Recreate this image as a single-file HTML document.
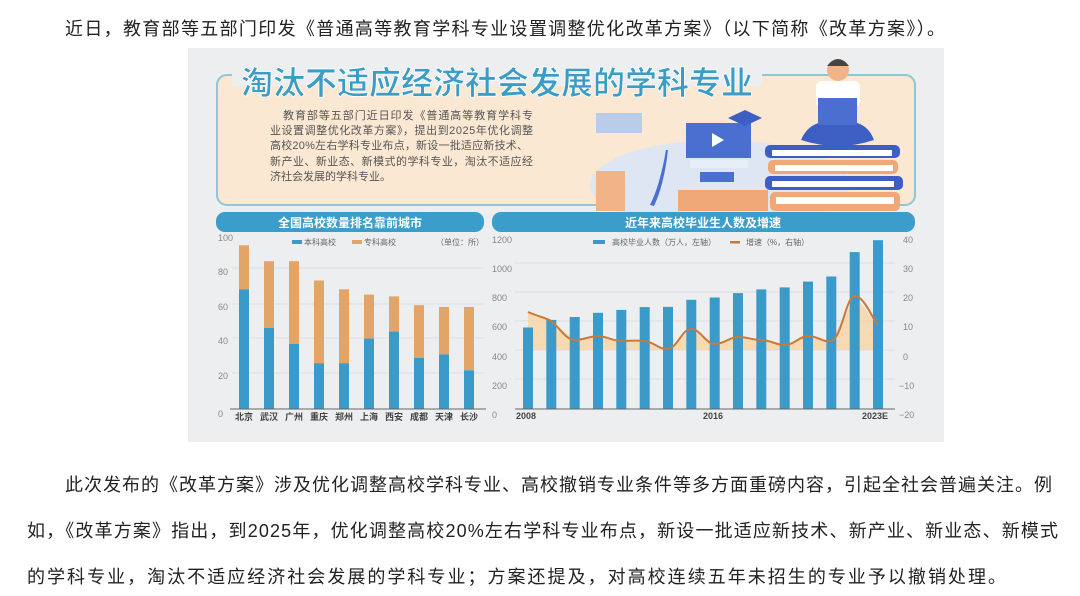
<!DOCTYPE html>
<html><head><meta charset="utf-8"><style>
html,body{margin:0;padding:0;background:#fff;width:1080px;height:596px;overflow:hidden}
svg text{font-family:"Liberation Sans","Noto Sans CJK SC",sans-serif}
</style></head><body>
<svg width="1080" height="596" viewBox="0 0 1080 596" style="position:absolute;left:0;top:0">
<rect width="1080" height="596" fill="#fff"/>
<g font-size="18" fill="#222">
<text x="65" y="35" textLength="880" lengthAdjust="spacing">近日，教育部等五部门印发《普通高等教育学科专业设置调整优化改革方案》（以下简称《改革方案》）。</text>
<text x="65" y="491" textLength="987" lengthAdjust="spacing">此次发布的《改革方案》涉及优化调整高校学科专业、高校撤销专业条件等多方面重磅内容，引起全社会普遍关注。例</text>
<text x="27" y="537" textLength="1031" lengthAdjust="spacing">如，《改革方案》指出，到2025年，优化调整高校20%左右学科专业布点，新设一批适应新技术、新产业、新业态、新模式</text>
<text x="27" y="583" textLength="979" lengthAdjust="spacing">的学科专业，淘汰不适应经济社会发展的学科专业；方案还提及，对高校连续五年未招生的专业予以撤销处理。</text>
</g>

<rect x="188" y="48" width="756" height="394" fill="#eceef0"/>
<rect x="217" y="75" width="698" height="130" rx="10" fill="#fbe8d2" stroke="#8fc6d8" stroke-width="2"/>
<rect x="232" y="66" width="530" height="20" fill="#eceef0"/>
<text x="241" y="94" font-size="32" font-weight="bold" fill="#3b9cc5" stroke="#fff" stroke-width="0.8" textLength="512" lengthAdjust="spacingAndGlyphs">淘汰不适应经济社会发展的学科专业</text>
<g font-size="11" fill="#555">
<text x="283" y="119" textLength="250" lengthAdjust="spacing">教育部等五部门近日印发《普通高等教育学科专</text>
<text x="270" y="134" textLength="263" lengthAdjust="spacing">业设置调整优化改革方案》，提出到2025年优化调整</text>
<text x="270" y="149" textLength="258" lengthAdjust="spacing">高校20%左右学科专业布点，新设一批适应新技术、</text>
<text x="270" y="165" textLength="263" lengthAdjust="spacing">新产业、新业态、新模式的学科专业，淘汰不适应经</text>
<text x="270" y="180">济社会发展的学科专业。</text>
</g>
<!-- illustration -->
<ellipse cx="720" cy="185" rx="130" ry="45" fill="#dde6f2"/>
<rect x="596" y="113" width="46" height="20" fill="#b9cde8"/>
<rect x="596" y="171" width="29" height="40" fill="#f2b387"/>
<path d="M666 150 Q660 185 650 205 L654 206 Q664 185 668 150 Z" fill="#4a6fd0"/>
<rect x="686" y="123" width="65" height="35" fill="#4a6fd0"/>
<polygon points="712,133 712,147 724,140" fill="#fff"/>
<rect x="690" y="160" width="58" height="8" fill="#e8eef8"/>
<rect x="700" y="172" width="34" height="10" fill="#4a6fd0"/>
<polygon points="728,118 745,110 762,118 745,126" fill="#3d5fc4"/>
<rect x="678" y="190" width="90" height="21" fill="#f0a878"/>
<rect x="765" y="145" width="135" height="13" rx="5" fill="#3d5fc4"/>
<rect x="772" y="150" width="120" height="6" fill="#fff"/>
<rect x="768" y="160" width="130" height="14" rx="5" fill="#f0a878"/>
<rect x="775" y="165" width="118" height="6" fill="#fff"/>
<rect x="765" y="176" width="138" height="14" rx="5" fill="#3d5fc4"/>
<rect x="772" y="181" width="122" height="6" fill="#fff"/>
<rect x="770" y="192" width="130" height="19" rx="5" fill="#f0a878"/>
<rect x="776" y="197" width="118" height="7" fill="#fff"/>
<circle cx="838" cy="70" r="11" fill="#f2b387"/>
<path d="M827 66 Q838 52 849 66 Z" fill="#444"/>
<rect x="816" y="81" width="44" height="26" rx="6" fill="#fff"/>
<path d="M801 140 Q810 118 838 122 Q866 118 874 140 Q838 152 801 140 Z" fill="#3d5fc4"/>
<rect x="818" y="98" width="39" height="27" fill="#4a6fd0"/>

<!-- banners -->
<rect x="216" y="212" width="268" height="20" rx="9" fill="#3b9dc9"/>
<text x="350" y="227" font-size="12" font-weight="bold" fill="#fff" text-anchor="middle">全国高校数量排名靠前城市</text>
<rect x="492" y="212" width="423" height="20" rx="9" fill="#3b9dc9"/>
<text x="703" y="227" font-size="12" font-weight="bold" fill="#fff" text-anchor="middle">近年来高校毕业生人数及增速</text>

<!-- left chart -->
<g stroke="#dcdfe3" stroke-width="1">
<line x1="232" y1="268" x2="484" y2="268"/><line x1="232" y1="304" x2="484" y2="304"/>
<line x1="232" y1="338" x2="484" y2="338"/><line x1="232" y1="373" x2="484" y2="373"/>
</g>
<g font-size="9" fill="#888">
<text x="218" y="241">100</text><text x="218" y="275">80</text><text x="218" y="310">60</text>
<text x="218" y="344">40</text><text x="218" y="379">20</text><text x="218" y="417">0</text>
</g>
<rect x="292" y="240" width="10" height="4" fill="#3a9bcb"/><text x="304" y="245" font-size="8" fill="#666">本科高校</text>
<rect x="352" y="240" width="10" height="4" fill="#e3a468"/><text x="364" y="245" font-size="8" fill="#666">专科高校</text>
<text x="436" y="245" font-size="8" fill="#666">（单位：所）</text>
<g fill="#e3a468">
<rect x="239" y="245.3" width="10" height="44"/><rect x="264" y="261.2" width="10" height="66.8"/>
<rect x="289" y="261.2" width="10" height="82.7"/><rect x="314" y="280.5" width="10" height="82.7"/>
<rect x="339" y="289.3" width="10" height="73.9"/><rect x="364" y="294.6" width="10" height="44"/>
<rect x="389" y="296.4" width="10" height="35.2"/><rect x="414" y="305.2" width="10" height="52.8"/>
<rect x="439" y="306.9" width="10" height="47.5"/><rect x="464" y="306.9" width="10" height="63.4"/>
</g>
<g fill="#3a9bcb">
<rect x="239" y="289.3" width="10" height="119.7"/><rect x="264" y="328" width="10" height="81"/>
<rect x="289" y="343.9" width="10" height="65.1"/><rect x="314" y="363.2" width="10" height="45.8"/>
<rect x="339" y="363.2" width="10" height="45.8"/><rect x="364" y="338.6" width="10" height="70.4"/>
<rect x="389" y="331.6" width="10" height="77.4"/><rect x="414" y="358" width="10" height="51"/>
<rect x="439" y="354.4" width="10" height="54.6"/><rect x="464" y="370.3" width="10" height="38.7"/>
</g>
<line x1="230" y1="409" x2="486" y2="409" stroke="#666" stroke-width="1"/>
<g font-size="9" font-weight="bold" fill="#444" text-anchor="middle">
<text x="244" y="420">北京</text><text x="269" y="420">武汉</text><text x="294" y="420">广州</text>
<text x="319" y="420">重庆</text><text x="344" y="420">郑州</text><text x="369" y="420">上海</text>
<text x="394" y="420">西安</text><text x="419" y="420">成都</text><text x="444" y="420">天津</text>
<text x="469" y="420">长沙</text>
</g>

<!-- right chart -->
<g stroke="#dcdfe3" stroke-width="1">
<line x1="515" y1="263" x2="895" y2="263"/><line x1="515" y1="292" x2="895" y2="292"/>
<line x1="515" y1="321" x2="895" y2="321"/><line x1="515" y1="350" x2="895" y2="350"/>
<line x1="515" y1="379" x2="895" y2="379"/>
</g>
<g font-size="9" fill="#888">
<text x="492" y="243">1200</text><text x="492" y="272">1000</text><text x="492" y="301">800</text>
<text x="492" y="330">600</text><text x="492" y="360">400</text><text x="492" y="389">200</text>
<text x="492" y="418">0</text>
<text x="903" y="243">40</text><text x="903" y="272">30</text><text x="903" y="301">20</text>
<text x="903" y="330">10</text><text x="903" y="360">0</text><text x="899" y="389">−10</text>
<text x="899" y="418">−20</text>
</g>
<rect x="593" y="240" width="12" height="4" fill="#3a9bcb"/><text x="612" y="245" font-size="8" fill="#666">高校毕业人数（万人，左轴）</text>
<rect x="730" y="241" width="10" height="2.5" fill="#c9793a"/><text x="746" y="245" font-size="8" fill="#666">增速（%，右轴）</text>
<polygon fill="#f8d3a0" opacity="0.75" points="528,350 528,312 551.3,321 574.7,340 598,336 621.3,341 644.7,341 668,349 691.3,329 714.7,344 738,337 761.3,340 784.7,345 808,336 831.3,341 854.7,296 878,325 878,350"/>
<g fill="#3a9bcb">
<rect x="523" y="327.5" width="10" height="81.5"/><rect x="546.3" y="319.9" width="10" height="89.1"/>
<rect x="569.7" y="317" width="10" height="92"/><rect x="593" y="312.8" width="10" height="96.2"/>
<rect x="616.3" y="309.9" width="10" height="99.1"/><rect x="639.7" y="307.1" width="10" height="101.9"/>
<rect x="663" y="306.9" width="10" height="102.1"/><rect x="686.3" y="299.8" width="10" height="109.2"/>
<rect x="709.7" y="297.5" width="10" height="111.5"/><rect x="733" y="293.1" width="10" height="115.9"/>
<rect x="756.3" y="289.4" width="10" height="119.6"/><rect x="779.7" y="287.4" width="10" height="121.6"/>
<rect x="803" y="281.6" width="10" height="127.4"/><rect x="826.3" y="276.5" width="10" height="132.5"/>
<rect x="849.7" y="252.1" width="10" height="156.9"/><rect x="873" y="240.2" width="10" height="168.8"/>
</g>
<path d="M528,312 C540,317 546,318 551.3,321 C560,328 566,340 574.7,340 C584,340 590,336 598,336 C606,336 612,341 621.3,341 C630,341 636,340 644.7,341 C654,342 660,350 668,349 C678,347 682,329 691.3,329 C700,329 706,344 714.7,344 C724,344 730,337 738,337 C748,337 752,340 761.3,340 C770,340 776,345 784.7,345 C794,345 800,336 808,336 C818,336 824,343 831.3,341 C842,338 846,296 854.7,296 C864,296 872,318 878,325" fill="none" stroke="#c9793a" stroke-width="2"/>
<line x1="515" y1="409" x2="895" y2="409" stroke="#666" stroke-width="1"/>
<g font-size="9" font-weight="bold" fill="#444">
<text x="516" y="419">2008</text><text x="703" y="419">2016</text><text x="862" y="419">2023E</text>
</g>
</svg>
</body></html>
